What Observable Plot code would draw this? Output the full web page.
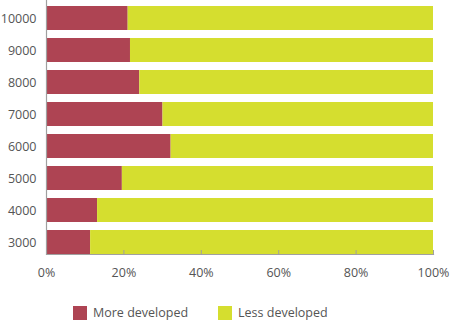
<!DOCTYPE html>
<html>
<head>
<meta charset="utf-8">
<script src="https://cdn.jsdelivr.net/npm/d3@7"></script>
<script src="https://cdn.jsdelivr.net/npm/@observablehq/plot@0.6"></script>
<style>
  body { margin: 0; background: #fff; font-family: "Open Sans", sans-serif; }
  #chart { position: relative; width: 454px; height: 334px; }
  .legend { position: absolute; top: 304px; left: 73px; display: flex; align-items: center; font-size: 12.5px; color: #555; }
  .legend .item { display: flex; align-items: center; margin-right: 30px; }
  .legend .sw { width: 14px; height: 14px; margin-right: 6px; }
</style>
</head>
<body>
<div id="chart"></div>
<script>
const categories = ["3000", "4000", "5000", "6000", "7000", "8000", "9000", "10000"];
const moreDeveloped = [11.4, 13.2, 19.6, 32.2, 30.1, 24.1, 21.7, 21.1];
const lessDeveloped = [88.6, 86.8, 80.4, 67.8, 69.9, 75.9, 78.3, 78.9];
const seriesNames = ["More developed", "Less developed"];
const seriesColors = ["#ae4453", "#d5de2f"];
const xTicks = [0, 20, 40, 60, 80, 100];

const rows = [];
categories.forEach((c, i) => {
  rows.push({cat: c, series: seriesNames[0], value: moreDeveloped[i]});
  rows.push({cat: c, series: seriesNames[1], value: lessDeveloped[i]});
});

const axisColor = "#a0a0a0";
const textColor = "#555";

const plot = Plot.plot({
  width: 454,
  height: 290,
  marginLeft: 46,
  marginRight: 21,
  marginTop: 5,
  marginBottom: 36,
  style: {fontFamily: "Open Sans, sans-serif", fontSize: "12px", color: textColor, background: "#fff"},
  x: {domain: [0, 100]},
  y: {domain: categories.slice().reverse(), paddingInner: 0.25, paddingOuter: 0},
  color: {domain: seriesNames, range: seriesColors},
  marks: [
    Plot.barX(rows, Plot.stackX({y: "cat", x: "value", fill: "series", order: seriesNames})),
    Plot.ruleX([0], {stroke: axisColor, strokeWidth: 1.2, insetTop: -5}),
    Plot.frame({anchor: "bottom", stroke: axisColor, strokeWidth: 1.2}),
    Plot.tickX(xTicks, {x: d => d, stroke: axisColor, insetTop: 245}),
    Plot.axisX({ticks: xTicks, tickFormat: d => d + "%", tickSize: 0, tickPadding: 14, fill: textColor, label: null, fontSize: 12.5}),
    Plot.axisY({tickSize: 0, tickPadding: 10, fill: textColor, label: null, fontSize: 12.5})
  ]
});
document.getElementById("chart").appendChild(plot);

const legend = document.createElement("div");
legend.className = "legend";
seriesNames.forEach((name, i) => {
  const item = document.createElement("div");
  item.className = "item";
  const sw = document.createElement("div");
  sw.className = "sw";
  sw.style.background = seriesColors[i];
  const label = document.createElement("span");
  label.textContent = name;
  item.appendChild(sw);
  item.appendChild(label);
  legend.appendChild(item);
});
document.getElementById("chart").appendChild(legend);
</script>
</body>
</html>
